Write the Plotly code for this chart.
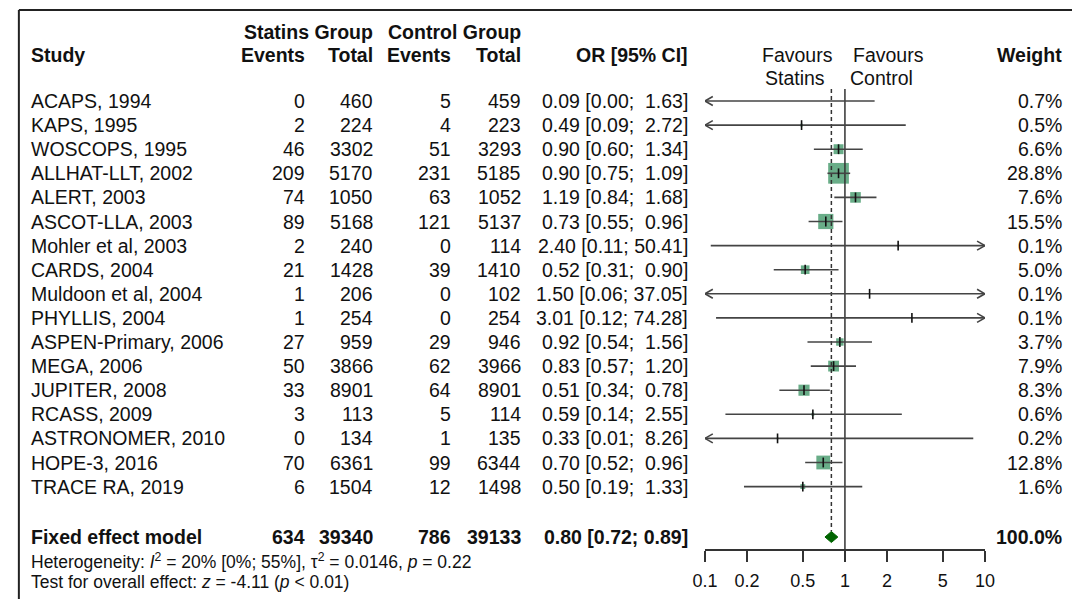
import numpy as np
import plotly.graph_objects as go

# ---------------- data ----------------
studies = ["ACAPS, 1994", "KAPS, 1995", "WOSCOPS, 1995", "ALLHAT-LLT, 2002", "ALERT, 2003",
           "ASCOT-LLA, 2003", "Mohler et al, 2003", "CARDS, 2004", "Muldoon et al, 2004",
           "PHYLLIS, 2004", "ASPEN-Primary, 2006", "MEGA, 2006", "JUPITER, 2008",
           "RCASS, 2009", "ASTRONOMER, 2010", "HOPE-3, 2016", "TRACE RA, 2019"]
events_statins = [0, 2, 46, 209, 74, 89, 2, 21, 1, 1, 27, 50, 33, 3, 0, 70, 6]
total_statins = [460, 224, 3302, 5170, 1050, 5168, 240, 1428, 206, 254, 959, 3866, 8901, 113, 134, 6361, 1504]
events_control = [5, 4, 51, 231, 63, 121, 0, 39, 0, 0, 29, 62, 64, 5, 1, 99, 12]
total_control = [459, 223, 3293, 5185, 1052, 5137, 114, 1410, 102, 254, 946, 3966, 8901, 114, 135, 6344, 1498]
odds_ratio = [0.09, 0.49, 0.90, 0.90, 1.19, 0.73, 2.40, 0.52, 1.50, 3.01, 0.92, 0.83, 0.51, 0.59, 0.33, 0.70, 0.50]
ci_lower = [0.00, 0.09, 0.60, 0.75, 0.84, 0.55, 0.11, 0.31, 0.06, 0.12, 0.54, 0.57, 0.34, 0.14, 0.01, 0.52, 0.19]
ci_upper = [1.63, 2.72, 1.34, 1.09, 1.68, 0.96, 50.41, 0.90, 37.05, 74.28, 1.56, 1.20, 0.78, 2.55, 8.26, 0.96, 1.33]
weights = [0.7, 0.5, 6.6, 28.8, 7.6, 15.5, 0.1, 5.0, 0.1, 0.1, 3.7, 7.9, 8.3, 0.6, 0.2, 12.8, 1.6]

pooled_or, pooled_lo, pooled_hi = 0.80, 0.72, 0.89
pooled_weight = 100.0

tick_vals = [0.1, 0.2, 0.5, 1, 2, 5, 10]
tick_labels = ["0.1", "0.2", "0.5", "1", "2", "5", "10"]

heterogeneity_text = ("Heterogeneity: <i>I</i><sup>2</sup> = 20% [0%; 55%], "
                      "\u03c4<sup>2</sup> = 0.0146, <i>p</i> = 0.22")
overall_text = "Test for overall effect: <i>z</i> = -4.11 (<i>p</i> &lt; 0.01)"

# ---------------- layout constants ----------------
W, H = 1082, 599
ROW0, STEP = 101.0, 24.1          # pixel y of first study row, row spacing
FONT = "Arial, Liberation Sans, sans-serif"
FS = 19.5
X_LO, X_HI = 0.1, 10.0
PX_PER_DEC = (993 - 707) / 2.0


def yrow(px):
    return (px - ROW0) / STEP


n = len(studies)
rows = list(range(n))
fixed_row = yrow(537)
axis_px = 550

fig = go.Figure()

# squares (area proportional to weight)
sq_x, sq_y, sq_s = [], [], []
for i in rows:
    if X_LO <= odds_ratio[i] <= X_HI:
        sq_x.append(odds_ratio[i])
        sq_y.append(i)
        sq_s.append(20.7 * np.sqrt(weights[i] / 28.8))
fig.add_trace(go.Scatter(x=sq_x, y=sq_y, mode="markers", hoverinfo="skip",
                         marker=dict(symbol="square", size=sq_s, color="#2a8a55",
                                     line=dict(width=0))))

# reference lines
fig.add_trace(go.Scatter(x=[1, 1], y=[yrow(89), yrow(axis_px)], mode="lines",
                         line=dict(color="#333333", width=1.5), hoverinfo="skip"))
dh = 5.5 / STEP
fig.add_trace(go.Scatter(x=[pooled_or, pooled_or], y=[yrow(89), fixed_row - dh], mode="lines",
                         line=dict(color="#333333", width=1.5, dash="4px,3px"), hoverinfo="skip"))

# CI lines
lx, ly = [], []
for i in rows:
    a = max(ci_lower[i], X_LO)
    b = min(ci_upper[i], X_HI)
    lx += [a, b, None]
    ly += [i, i, None]
fig.add_trace(go.Scatter(x=lx, y=ly, mode="lines", line=dict(color="#444444", width=1.6),
                         hoverinfo="skip"))

# arrowheads for clipped CIs
adx = 8 / PX_PER_DEC
ady = 4.5 / STEP
ax_, ay_ = [], []
for i in rows:
    if ci_lower[i] < X_LO:
        back = X_LO * 10 ** adx
        ax_ += [back, X_LO, back, None]
        ay_ += [i - ady, i, i + ady, None]
    if ci_upper[i] > X_HI:
        back = X_HI / 10 ** adx
        ax_ += [back, X_HI, back, None]
        ay_ += [i - ady, i, i + ady, None]
fig.add_trace(go.Scatter(x=ax_, y=ay_, mode="lines", line=dict(color="#444444", width=1.6),
                         hoverinfo="skip"))

# point estimate ticks
tx = [odds_ratio[i] for i in rows if X_LO <= odds_ratio[i] <= X_HI]
ty = [i for i in rows if X_LO <= odds_ratio[i] <= X_HI]
fig.add_trace(go.Scatter(x=tx, y=ty, mode="markers", hoverinfo="skip",
                         marker=dict(symbol="line-ns", size=7,
                                     line=dict(color="#111111", width=1.6))))

# pooled diamond
fig.add_trace(go.Scatter(x=[pooled_lo, pooled_or, pooled_hi, pooled_or, pooled_lo],
                         y=[fixed_row, fixed_row - dh, fixed_row, fixed_row + dh, fixed_row],
                         mode="lines", fill="toself", fillcolor="#006400",
                         line=dict(color="#006400", width=1), hoverinfo="skip"))


# ---------------- text ----------------
def txt(px_x, row, s, anchor="left", bold=False, size=FS):
    if bold:
        s = "<b>" + s + "</b>"
    fig.add_annotation(x=px_x / W, xref="paper", y=row, yref="y", text=s, showarrow=False,
                       xanchor=anchor, yanchor="middle", borderpad=0,
                       font=dict(family=FONT, size=size, color="#111111"))


C_STUDY, C_EVS, C_NS, C_EVC, C_NC, C_CI, C_W = 17, 299, 369, 449, 520, 691, 1073

h1, h2, h3 = yrow(32), yrow(55), yrow(78)
txt(C_NS, h1, "Statins Group", "right", True)
txt(C_NC, h1, "Control Group", "right", True)
txt(C_STUDY, h2, "Study", "left", True)
txt(C_EVS, h2, "Events", "right", True)
txt(C_NS, h2, "Total", "right", True)
txt(C_EVC, h2, "Events", "right", True)
txt(C_NC, h2, "Total", "right", True)
txt(C_CI, h2, "OR [95% CI]", "right", True)
txt(C_W, h2, "Weight", "right", True)
txt(802, h2, "Favours", "center")
txt(799, h3, "Statins", "center")
txt(895, h2, "Favours", "center")
txt(887, h3, "Control", "center")


def ci_str(o, a, b):
    hs = f"{b:.2f}"
    pad = "\u00a0" if b < 10 else ""
    return f"{o:.2f} [{a:.2f};\u00a0{pad}{hs}]"


for i in rows:
    txt(C_STUDY, i, studies[i])
    txt(C_EVS, i, str(events_statins[i]), "right")
    txt(C_NS, i, str(total_statins[i]), "right")
    txt(C_EVC, i, str(events_control[i]), "right")
    txt(C_NC, i, str(total_control[i]), "right")
    txt(C_CI, i, ci_str(odds_ratio[i], ci_lower[i], ci_upper[i]), "right")
    txt(C_W, i, f"{weights[i]:.1f}%", "right")

txt(C_STUDY, fixed_row, "Fixed effect model", "left", True)
txt(C_EVS, fixed_row, str(sum(events_statins)), "right", True)
txt(C_NS, fixed_row, str(sum(total_statins)), "right", True)
txt(C_EVC, fixed_row, str(sum(events_control)), "right", True)
txt(C_NC, fixed_row, str(sum(total_control)), "right", True)
txt(C_CI, fixed_row, f"{pooled_or:.2f} [{pooled_lo:.2f}; {pooled_hi:.2f}]", "right", True)
txt(C_W, fixed_row, f"{pooled_weight:.1f}%", "right", True)

txt(C_STUDY, yrow(561), heterogeneity_text, "left", size=17.5)
txt(C_STUDY, yrow(582), overall_text, "left", size=17.5)

# frame lines (top and left)
fig.add_shape(type="line", xref="paper", yref="paper", x0=6 / W, x1=1.0,
              y0=1 - 10 / H, y1=1 - 10 / H, line=dict(color="#222222", width=2))
fig.add_shape(type="line", xref="paper", yref="paper", x0=6 / W, x1=6 / W,
              y0=0, y1=1 - 10 / H, line=dict(color="#222222", width=2))

fig.update_layout(
    width=W, height=H, margin=dict(l=0, r=0, t=0, b=0),
    paper_bgcolor="white", plot_bgcolor="white", showlegend=False,
    xaxis=dict(type="log", range=[np.log10(X_LO), np.log10(X_HI)],
               domain=[707 / W, 993 / W], anchor="free", position=1 - axis_px / H,
               showline=True, linecolor="#333333", linewidth=1.5,
               ticks="outside", ticklen=11, tickwidth=1.5, tickcolor="#333333",
               ticklabelstandoff=4,
               tickvals=tick_vals, ticktext=tick_labels,
               tickfont=dict(family=FONT, size=18, color="#111111"),
               showgrid=False, zeroline=False, fixedrange=True),
    yaxis=dict(range=[yrow(H), yrow(0)], domain=[0, 1], visible=False, fixedrange=True),
)

fig.write_html("out.html")
